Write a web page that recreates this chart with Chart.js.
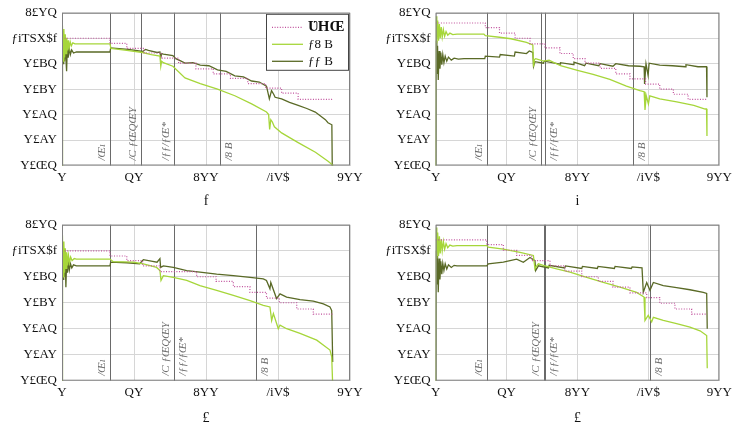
<!DOCTYPE html>
<html>
<head>
<meta charset="utf-8">
<script src="https://cdn.jsdelivr.net/npm/chart.js@4.4.1/dist/chart.umd.min.js"></script>
<style>
  body { margin: 0; background: #fff; }
  #wrap { position: relative; width: 739px; height: 427px; overflow: hidden; }
  .panel { position: absolute; }
</style>
</head>
<body>
<div id="wrap">
  <div class="panel" style="left:0;top:0"><canvas id="chartA" width="370" height="212"></canvas></div>
  <div class="panel" style="left:370px;top:0"><canvas id="chartB" width="369" height="212"></canvas></div>
  <div class="panel" style="left:0;top:212px"><canvas id="chartC" width="370" height="215"></canvas></div>
  <div class="panel" style="left:370px;top:212px"><canvas id="chartD" width="369" height="215"></canvas></div>
</div>
<script>
// Axis ticks + labels
const xTickValues = [0, 50, 100, 150, 200];
const xTickLabels = ['Y', 'QY', '8YY', '/iV$', '9YY'];
const yTickValues = [0.75, 0.80, 0.85, 0.90, 0.95, 1.00, 1.05];
const yTickLabels = ['Y£ŒQ', 'Y£AY', 'Y£AQ', 'Y£BY', 'Y£BQ', 'ƒiTSX$f', '8£YQ'];
const seriesNames = ['ƲHŒ', 'ƒ8 B', 'ƒƒ B'];
const eventNames = ['/Œı', '/C ƒŒQŒY', '/ƒƒ/ƒŒ*', '/8 B'];
const panelTitles = ['f', 'i', '£', '£'];

// Panel a
const aPinkX = [0, 33.3, 45, 57, 69, 81, 93, 105, 117, 129, 141.4, 152.5, 164, 188];
const aPinkY = [1.0, 0.990, 0.980, 0.971, 0.961, 0.951, 0.940, 0.930, 0.921, 0.911, 0.902, 0.892, 0.880, 0.880];
const aLightX = [0, 0.3, 0.8, 1.3, 1.8, 2.3, 2.8, 3.3, 3.8, 4.4, 5, 5.7, 6.5, 7.5, 9, 33.3, 34, 45, 56, 62, 68, 68.6, 69.2, 70.4, 77, 85.4, 96, 108, 120, 131.7, 142, 143.5, 144.2, 145, 146, 147.5, 152.5, 164, 176, 185, 187.5, 188];
const aLightY = [0.74, 1.025, 0.955, 1.018, 0.962, 1.008, 0.970, 1.001, 0.976, 0.996, 0.981, 0.993, 0.985, 0.991, 0.989, 0.989, 0.980, 0.976, 0.972, 0.968, 0.965, 0.945, 0.955, 0.952, 0.945, 0.922, 0.911, 0.900, 0.887, 0.871, 0.855, 0.850, 0.821, 0.840, 0.836, 0.826, 0.814, 0.795, 0.776, 0.758, 0.752, 0.745];
const aDarkX = [0, 0.3, 0.7, 1.2, 1.7, 2.2, 2.7, 3.2, 3.7, 4.3, 5, 5.8, 6.7, 8, 10, 33.3, 33.8, 46, 56, 58, 60, 66, 68, 68.6, 69.2, 70.4, 77, 79, 82, 85.4, 91, 96, 102, 108, 114, 120, 126, 131.7, 137, 142, 144, 145.5, 147, 148, 152.5, 158, 164, 170, 175.9, 182.9, 184.7, 187.4, 187.7];
const aDarkY = [0.74, 1.0, 0.95, 0.995, 0.955, 0.99, 0.96, 0.935, 0.985, 0.962, 0.981, 0.968, 0.977, 0.971, 0.973, 0.973, 0.981, 0.978, 0.974, 0.978, 0.976, 0.972, 0.973, 0.962, 0.970, 0.969, 0.966, 0.960, 0.956, 0.951, 0.952, 0.947, 0.946, 0.938, 0.935, 0.926, 0.924, 0.916, 0.914, 0.906, 0.881, 0.897, 0.890, 0.884, 0.881, 0.874, 0.868, 0.862, 0.855, 0.840, 0.834, 0.830, 0.74];
const aEvents = [33.3, 55, 78, 109.5];

// Panel b
const bPinkX = [0, 35, 45, 56, 66.5, 77, 87.6, 97, 105.3, 116, 127, 137, 148, 158, 167.6, 178, 191];
const bPinkY = [1.030, 1.021, 1.010, 1.0, 0.989, 0.981, 0.970, 0.960, 0.951, 0.941, 0.930, 0.920, 0.910, 0.900, 0.890, 0.880, 0.880];
const bLightX = [0, 0.3, 0.8, 1.4, 2, 2.6, 3.2, 3.9, 4.6, 5.4, 6.3, 7.3, 8.5, 10, 12, 15, 34, 35, 45, 53, 64, 68.5, 69, 69.6, 70.5, 76, 80, 88, 100, 111, 122.8, 134.5, 144, 147, 147.6, 148.5, 150, 151, 158, 170, 182, 190, 191, 191.3];
const bLightY = [0.74, 1.043, 0.99, 1.035, 0.995, 1.028, 1.0, 1.022, 1.002, 1.017, 1.004, 1.013, 1.006, 1.010, 1.007, 1.008, 1.008, 1.005, 1.002, 0.999, 0.992, 0.987, 0.944, 0.958, 0.960, 0.955, 0.957, 0.946, 0.937, 0.929, 0.919, 0.906, 0.897, 0.895, 0.859, 0.887, 0.871, 0.887, 0.881, 0.875, 0.868, 0.861, 0.861, 0.808];
const bDarkX = [0, 0.3, 0.8, 1.3, 1.8, 2.4, 3, 3.6, 4.3, 5, 5.8, 6.7, 7.8, 9, 11, 13, 16, 20, 34.6, 35, 45, 45.5, 55.5, 56, 64, 66, 68.5, 69, 70, 76, 76.5, 87.7, 88, 97, 97.5, 105, 106, 115, 116, 125, 127, 136, 144, 147, 147.3, 148.3, 149.8, 150.5, 158, 167, 176, 176.5, 185, 191, 191.3];
const bDarkY = [0.74, 0.995, 0.93, 0.985, 0.918, 0.975, 0.94, 0.972, 0.948, 0.968, 0.952, 0.965, 0.955, 0.963, 0.957, 0.961, 0.959, 0.960, 0.960, 0.965, 0.963, 0.968, 0.965, 0.973, 0.970, 0.975, 0.972, 0.945, 0.954, 0.951, 0.955, 0.949, 0.952, 0.948, 0.953, 0.946, 0.951, 0.946, 0.950, 0.945, 0.950, 0.946, 0.945, 0.944, 0.910, 0.950, 0.927, 0.951, 0.947, 0.946, 0.944, 0.948, 0.944, 0.944, 0.884];
const bEvents = [36, 74, 77, 139];

// Panel c
const cPinkX = [0, 33.3, 45, 56, 68, 93.5, 107, 119, 130.5, 142, 151, 163, 174.5, 188];
const cPinkY = [1.0, 0.990, 0.981, 0.971, 0.960, 0.950, 0.941, 0.931, 0.920, 0.909, 0.900, 0.888, 0.878, 0.878];
const cLightX = [0, 0.3, 0.8, 1.3, 1.8, 2.3, 2.8, 3.3, 3.9, 4.5, 5.2, 6, 7, 8.5, 10, 33.3, 35.6, 49.5, 56.5, 65.7, 68, 68.75, 70.4, 77.3, 86.6, 95.8, 107.4, 119, 130.6, 139.8, 144.4, 145.6, 146.8, 150.2, 151.4, 156, 165.3, 176.9, 186.1, 187.3, 188];
const cLightY = [0.74, 1.03, 0.95, 1.018, 0.958, 1.005, 0.966, 0.997, 0.972, 0.991, 0.977, 0.988, 0.981, 0.985, 0.984, 0.984, 0.979, 0.978, 0.975, 0.968, 0.962, 0.943, 0.952, 0.949, 0.943, 0.933, 0.924, 0.914, 0.904, 0.895, 0.892, 0.866, 0.879, 0.850, 0.857, 0.850, 0.841, 0.828, 0.809, 0.796, 0.74];
const cDarkX = [0, 0.3, 0.7, 1.2, 1.7, 2.2, 2.7, 3.2, 3.8, 4.4, 5.1, 5.9, 6.8, 8, 10, 33.3, 33.8, 45, 54, 56.5, 62, 66, 68, 68.5, 70.4, 77.3, 86.6, 95.8, 107.4, 119, 130.6, 139.8, 142, 144.4, 145, 149, 151.4, 156, 165.3, 174.5, 181.5, 186.1, 187.3, 188];
const cDarkY = [0.74, 1.0, 0.945, 0.99, 0.95, 0.985, 0.93, 0.98, 0.958, 0.978, 0.963, 0.975, 0.967, 0.973, 0.971, 0.971, 0.978, 0.977, 0.975, 0.983, 0.980, 0.978, 0.985, 0.968, 0.971, 0.968, 0.962, 0.959, 0.955, 0.952, 0.949, 0.946, 0.943, 0.927, 0.939, 0.908, 0.917, 0.911, 0.906, 0.903, 0.898, 0.892, 0.885, 0.786];
const cEvents = [33.3, 77.5, 78, 135];

// Panel d
const dPinkX = [0, 36, 47.7, 57.1, 67.7, 80.6, 91, 103, 114.7, 125, 137, 148.8, 158, 168.7, 180.5, 191.1];
const dPinkY = [1.021, 1.012, 1.001, 0.991, 0.981, 0.971, 0.961, 0.950, 0.941, 0.930, 0.919, 0.910, 0.899, 0.888, 0.878, 0.878];
const dLightX = [0, 0.3, 0.8, 1.4, 2, 2.6, 3.2, 3.9, 4.6, 5.4, 6.3, 7.3, 8.5, 10, 12, 15, 36, 37.1, 47.7, 59.5, 68.9, 70, 70.5, 72.4, 75.9, 85.3, 94.7, 106.5, 118.2, 130, 141.7, 146.9, 147.6, 149.9, 152.3, 153.5, 160.5, 169.9, 179.3, 186.4, 191.1, 191.5];
const dLightY = [0.74, 1.045, 0.985, 1.035, 0.99, 1.028, 0.995, 1.022, 1.0, 1.018, 1.003, 1.014, 1.006, 1.011, 1.009, 1.010, 1.010, 1.007, 1.003, 0.997, 0.991, 0.965, 0.968, 0.975, 0.972, 0.965, 0.959, 0.949, 0.939, 0.930, 0.920, 0.911, 0.866, 0.876, 0.863, 0.872, 0.866, 0.860, 0.853, 0.846, 0.837, 0.774];
const dDarkX = [0, 0.3, 0.8, 1.3, 1.8, 2.4, 3, 3.6, 4.3, 5, 5.8, 6.7, 7.8, 9, 11, 13, 15, 36, 37.1, 47.7, 57.1, 61.8, 66.5, 70, 70.5, 72.4, 79.5, 80, 91, 91.5, 103, 103.5, 114, 114.5, 126, 126.5, 138, 138.5, 145.5, 146.4, 148.8, 151.1, 153.5, 160.5, 169.9, 179.3, 188.7, 191.1, 191.5];
const dDarkY = [0.74, 1.0, 0.935, 0.99, 0.92, 0.985, 0.945, 0.98, 0.955, 0.976, 0.962, 0.975, 0.965, 0.973, 0.968, 0.972, 0.971, 0.971, 0.975, 0.978, 0.984, 0.978, 0.987, 0.981, 0.962, 0.971, 0.967, 0.972, 0.967, 0.971, 0.966, 0.970, 0.966, 0.970, 0.966, 0.970, 0.966, 0.969, 0.967, 0.920, 0.939, 0.924, 0.939, 0.933, 0.929, 0.925, 0.920, 0.918, 0.850];
const dEvents = [36, 76.5, 77, 151];

const serif = '"Liberation Serif", "DejaVu Serif", serif';
const pts = (xs, ys) => xs.map((x, i) => ({ x: x, y: ys[i] }));

// Event lines, labels, frame and boxed legend
const decorPlugin = {
    id: 'decor',
    beforeDatasetsDraw(chart, args, opts) {
        const { ctx, chartArea: area, scales: { x } } = chart;
        ctx.save();
        opts.lines.forEach((v, i) => {
            const px = Math.round(x.getPixelForValue(v)) + 0.5;
            ctx.strokeStyle = '#6a6a6a';
            ctx.lineWidth = 1;
            ctx.beginPath();
            ctx.moveTo(px, area.top);
            ctx.lineTo(px, area.bottom);
            ctx.stroke();

            const left = opts.sides[i] === 'l';
            ctx.save();
            ctx.translate(left ? px - 3 : px + 3, area.bottom - 5);
            ctx.rotate(-Math.PI / 2);
            ctx.font = 'italic 11px ' + serif;
            ctx.fillStyle = '#6e6e6e';
            ctx.textAlign = 'left';
            ctx.textBaseline = left ? 'bottom' : 'top';
            ctx.fillText(eventNames[i], 0, 0);
            ctx.restore();
        });
        ctx.restore();
    },
    afterDatasetsDraw(chart, args, opts) {
        const { ctx, chartArea: area } = chart;
        ctx.save();
        ctx.strokeStyle = '#808080';
        ctx.lineWidth = 1;
        ctx.strokeRect(area.left + 0.5, area.top + 0.5, area.width - 1, area.height - 1);

        if (opts.legend) {
            const bx = area.right - 84, by = area.top + 1, bw = 83, bh = 57;
            ctx.fillStyle = '#fff';
            ctx.fillRect(bx, by, bw, bh);
            ctx.strokeStyle = '#444';
            ctx.strokeRect(bx + 0.5, by + 0.5, bw - 1, bh - 1);
            chart.data.datasets.forEach((ds, i) => {
                const y = by + 13.5 + i * 17;
                ctx.strokeStyle = ds.borderColor;
                ctx.lineWidth = ds.borderWidth;
                ctx.setLineDash(ds.borderDash || []);
                ctx.beginPath();
                ctx.moveTo(bx + 6, y);
                ctx.lineTo(bx + 37, y);
                ctx.stroke();
                ctx.setLineDash([]);
                ctx.fillStyle = '#111';
                ctx.font = (i === 0 ? 'bold 15px ' : '13px ') + serif;
                ctx.textAlign = 'left';
                ctx.textBaseline = 'middle';
                ctx.fillText(ds.label, bx + 42, y);
            });
        }
        ctx.restore();
    }
};

function makePanel(id, pink, light, dark, events, sides, box, title, legend) {
    new Chart(document.getElementById(id), {
        type: 'line',
        data: {
            datasets: [
                { label: seriesNames[0], data: pink, borderColor: '#c0509c', borderWidth: 1.2,
                  borderDash: [1, 1.6], stepped: true },
                { label: seriesNames[1], data: light, borderColor: '#a6d63a', borderWidth: 1.3 },
                { label: seriesNames[2], data: dark, borderColor: '#5a6a26', borderWidth: 1.3 }
            ]
        },
        options: {
            responsive: false,
            animation: false,
            devicePixelRatio: 1,
            elements: { point: { radius: 0 }, line: { tension: 0 } },
            layout: { padding: { left: 0, top: box.top, right: box.right, bottom: 0 } },
            plugins: {
                legend: { display: false },
                tooltip: { enabled: false },
                decor: { lines: events, sides: sides, legend: legend }
            },
            scales: {
                x: {
                    type: 'linear',
                    min: 0,
                    max: 200,
                    afterBuildTicks: s => { s.ticks = xTickValues.map(v => ({ value: v })); },
                    afterFit: s => { s.height = box.xh; },
                    ticks: {
                        autoSkip: false, maxRotation: 0, padding: 4, color: '#111',
                        font: { family: serif, size: 13 },
                        callback: (v, i) => xTickLabels[i]
                    },
                    grid: { color: '#d6d6d6', drawTicks: false },
                    border: { display: false },
                    title: { display: true, text: title, color: '#111',
                             font: { family: serif, size: 14 }, padding: { top: 2, bottom: box.tpad } }
                },
                y: {
                    min: 0.75,
                    max: 1.05,
                    afterBuildTicks: s => { s.ticks = yTickValues.map(v => ({ value: v })); },
                    afterFit: s => { s.width = box.yw; },
                    ticks: {
                        autoSkip: false, padding: 5, color: '#111',
                        font: { family: serif, size: 13 },
                        callback: (v, i) => yTickLabels[i]
                    },
                    grid: { color: '#d6d6d6', drawTicks: false },
                    border: { display: false }
                }
            }
        },
        plugins: [decorPlugin]
    });
}

makePanel('chartA', pts(aPinkX, aPinkY), pts(aLightX, aLightY), pts(aDarkX, aDarkY),
    aEvents, ['l', 'l', 'l', 'r'], { top: 8, right: 20, yw: 62, xh: 46.5, tpad: 2 }, panelTitles[0], true);
makePanel('chartB', pts(bPinkX, bPinkY), pts(bLightX, bLightY), pts(bDarkX, bDarkY),
    bEvents, ['l', 'l', 'r', 'r'], { top: 8, right: 19.7, yw: 65.7, xh: 46.5, tpad: 2 }, panelTitles[1], false);
makePanel('chartC', pts(cPinkX, cPinkY), pts(cLightX, cLightY), pts(cDarkX, cDarkY),
    cEvents, ['l', 'l', 'r', 'r'], { top: 12, right: 20, yw: 62, xh: 46.3, tpad: 0 }, panelTitles[2], false);
makePanel('chartD', pts(dPinkX, dPinkY), pts(dLightX, dLightY), pts(dDarkX, dDarkY),
    dEvents, ['l', 'l', 'r', 'r'], { top: 12, right: 19.7, yw: 65.7, xh: 46.3, tpad: 0 }, panelTitles[3], false);
</script>
</body>
</html>
